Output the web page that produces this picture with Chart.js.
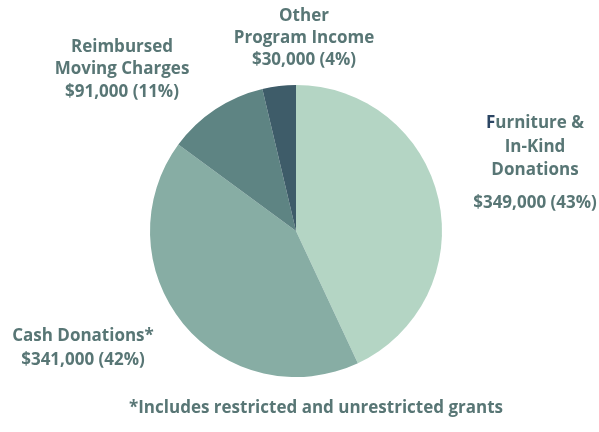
<!DOCTYPE html>
<html lang="en">
<head>
    <meta charset="UTF-8">
    <title>Revenue Sources</title>
    <script src="https://cdn.jsdelivr.net/npm/chart.js"></script>
    <style>
        html, body { margin: 0; padding: 0; background: #ffffff; }
        #wrap { position: relative; width: 599px; height: 432px; }
    </style>
</head>
<body>
    <div id="wrap"><canvas id="pieChart" width="599" height="432"></canvas></div>

    <script>
        // Revenue sources, clockwise from 12 o'clock
        const categories = ['Furniture & In-Kind Donations', 'Cash Donations*', 'Reimbursed Moving Charges', 'Other Program Income'];
        const amounts = [349000, 341000, 91000, 30000];
        const percents = [43, 42, 11, 4];
        const sliceColors = ['#b4d5c4', '#87ada4', '#5e8483', '#3e5c69'];
        const footnote = '*Includes restricted and unrestricted grants';

        const labelColor = '#587675';
        const labelFont = 'bold 17px "Open Sans", sans-serif';

        function money(v, p) {
            return '$' + v.toLocaleString('en-US') + ' (' + p + '%)';
        }

        // label blocks: lines of text with centre x / middle y
        const labelBlocks = [
            { x: 535, lines: [['Furniture &', 123], ['In-Kind', 147], ['Donations', 170], [money(amounts[0], percents[0]), 203]] },
            { x: 83, lines: [['Cash Donations*', 336], [money(amounts[1], percents[1]), 360]] },
            { x: 122, lines: [['Reimbursed', 47], ['Moving Charges', 69], [money(amounts[2], percents[2]), 92]] },
            { x: 304, lines: [['Other', 16], ['Program Income', 38], [money(amounts[3], percents[3]), 60]] }
        ];

        const labelPlugin = {
            id: 'sliceLabels',
            afterDraw(chart) {
                const ctx = chart.ctx;
                ctx.save();
                ctx.font = labelFont;
                ctx.textBaseline = 'middle';
                ctx.textAlign = 'center';
                labelBlocks.forEach((block, i) => {
                    block.lines.forEach(([text, y], j) => {
                        if (i === 0 && j === 0) {
                            // first letter of "Furniture" is darker
                            const w = ctx.measureText(text).width;
                            const left = block.x - w / 2;
                            ctx.textAlign = 'left';
                            ctx.fillStyle = '#2b4563';
                            ctx.fillText(text[0], left, y);
                            ctx.fillStyle = labelColor;
                            ctx.fillText(text.slice(1), left + ctx.measureText(text[0]).width, y);
                            ctx.textAlign = 'center';
                        } else {
                            ctx.fillStyle = labelColor;
                            ctx.fillText(text, block.x, y);
                        }
                    });
                });
                ctx.fillStyle = labelColor;
                ctx.fillText(footnote, 316, 408);
                ctx.restore();
            }
        };

        new Chart(document.getElementById('pieChart').getContext('2d'), {
            type: 'pie',
            data: {
                labels: categories,
                datasets: [{
                    data: amounts,
                    backgroundColor: sliceColors,
                    borderWidth: 0
                }]
            },
            options: {
                responsive: false,
                animation: false,
                layout: { padding: { top: 85, bottom: 55, left: 150, right: 157 } },
                plugins: {
                    legend: { display: false },
                    tooltip: { enabled: false }
                }
            },
            plugins: [labelPlugin]
        });
    </script>
</body>
</html>
